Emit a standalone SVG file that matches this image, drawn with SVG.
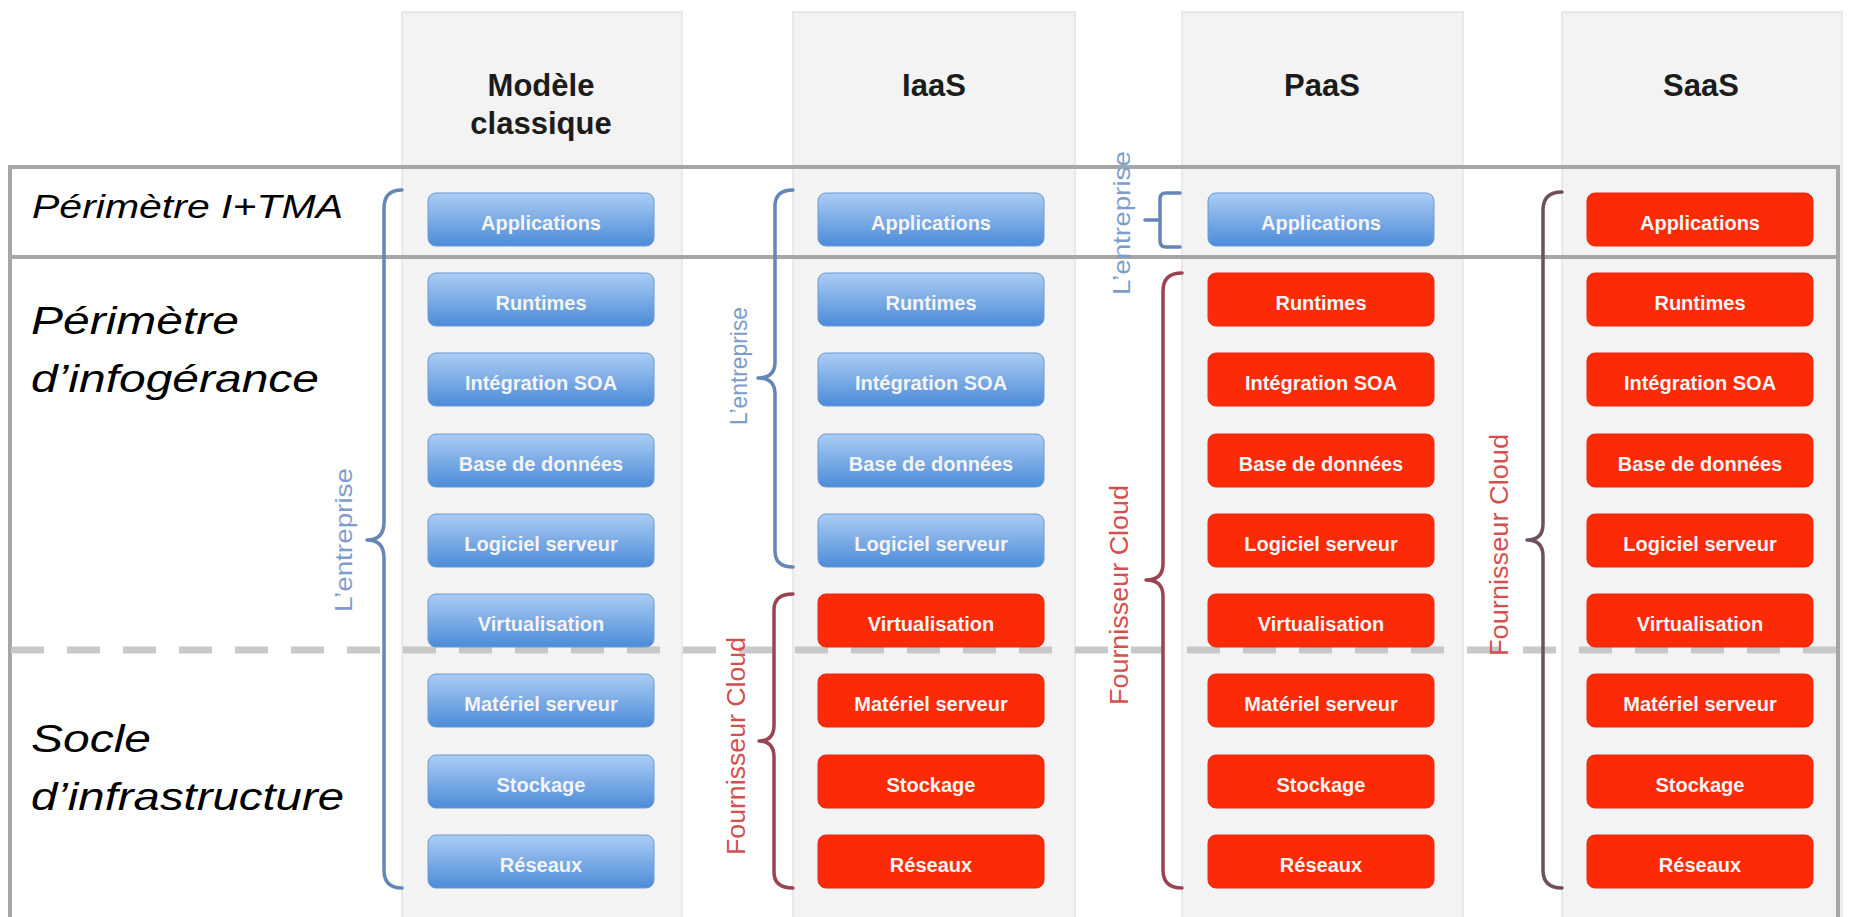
<svg xmlns="http://www.w3.org/2000/svg" width="1849" height="917" viewBox="0 0 1849 917">
  <defs>
    <linearGradient id="blueFill" x1="0" y1="0" x2="0" y2="1">
      <stop offset="0" stop-color="#abcdf4"/>
      <stop offset="1" stop-color="#4c8bd8"/>
    </linearGradient>
    <style>
      .panel { fill: #f3f3f3; stroke: #e3e3e3; stroke-width: 1.5; }
      .head { font-family: "Liberation Sans", Arial, sans-serif; font-weight: bold; font-size: 31px; fill: #1c1c1c; text-anchor: middle; }
      .blue { fill: url(#blueFill); stroke: #6a9ad6; stroke-width: 1; }
      .red { fill: #fc2a06; stroke: #e82a10; stroke-width: 1; }
      .lbl { font-family: "Liberation Sans", Arial, sans-serif; font-weight: bold; font-size: 20px; fill: #f4f4f4; text-anchor: middle; }
      .zone { font-family: "Liberation Sans", Arial, sans-serif; font-style: italic; fill: #000; }
      .frame { fill: none; stroke: #a6a6a6; stroke-width: 4; }
      .dash { stroke: #c8c8c8; stroke-width: 7; stroke-dasharray: 33 23; fill: none; }
      .braceB { fill: none; stroke: #6487b6; stroke-width: 3.5; stroke-linecap: round; stroke-linejoin: round; }
      .braceR { fill: none; stroke: #9a4452; stroke-width: 3.5; stroke-linecap: round; stroke-linejoin: round; }
      .braceD { fill: none; stroke: #6e5060; stroke-width: 3.5; stroke-linecap: round; stroke-linejoin: round; }
      .vB { font-family: "Liberation Sans", Arial, sans-serif; font-size: 24px; fill: #7e9dca; text-anchor: middle; }
      .vR { font-family: "Liberation Sans", Arial, sans-serif; font-size: 26px; fill: #d4504e; text-anchor: middle; }
    </style>
  </defs>

  <rect width="1849" height="917" fill="#ffffff"/>

  <!-- column panels -->
  <g id="panels">
    <rect class="panel" x="402" y="12" width="280" height="920"/>
    <rect class="panel" x="793" y="12" width="282" height="920"/>
    <rect class="panel" x="1182" y="12" width="281" height="920"/>
    <rect class="panel" x="1562" y="12" width="280" height="920"/>
  </g>

  <!-- column headings -->
  <g id="headings">
    <text class="head" x="541" y="96">Modèle</text>
    <text class="head" x="541" y="134">classique</text>
    <text class="head" x="934" y="96">IaaS</text>
    <text class="head" x="1322" y="96">PaaS</text>
    <text class="head" x="1701" y="96">SaaS</text>
  </g>

  <!-- zone frame and separators -->
  <g id="zones">
    <path class="frame" d="M10,930 L10,167 L1838,167 L1838,930"/>
    <line class="frame" x1="10" y1="257" x2="1838" y2="257"/>
    <line class="dash" x1="11" y1="650" x2="1838" y2="650"/>
  </g>

  <!-- zone labels -->
  <g id="zone-labels">
    <text class="zone" font-size="33" x="32" y="218" textLength="311" lengthAdjust="spacingAndGlyphs">Périmètre I+TMA</text>
    <text class="zone" font-size="38" x="31" y="334" textLength="208" lengthAdjust="spacingAndGlyphs">Périmètre</text>
    <text class="zone" font-size="38" x="31" y="392" textLength="288" lengthAdjust="spacingAndGlyphs">d’infogérance</text>
    <text class="zone" font-size="38" x="31" y="752" textLength="120" lengthAdjust="spacingAndGlyphs">Socle</text>
    <text class="zone" font-size="38" x="31" y="810" textLength="313" lengthAdjust="spacingAndGlyphs">d’infrastructure</text>
  </g>

  <!-- Modèle classique stack -->
  <g id="col-classique">
    <rect class="blue" x="428" y="193" width="226" height="53" rx="8"/><text class="lbl" x="541" y="230">Applications</text>
    <rect class="blue" x="428" y="273" width="226" height="53" rx="8"/><text class="lbl" x="541" y="310">Runtimes</text>
    <rect class="blue" x="428" y="353" width="226" height="53" rx="8"/><text class="lbl" x="541" y="390">Intégration SOA</text>
    <rect class="blue" x="428" y="434" width="226" height="53" rx="8"/><text class="lbl" x="541" y="471">Base de données</text>
    <rect class="blue" x="428" y="514" width="226" height="53" rx="8"/><text class="lbl" x="541" y="551">Logiciel serveur</text>
    <rect class="blue" x="428" y="594" width="226" height="53" rx="8"/><text class="lbl" x="541" y="631">Virtualisation</text>
    <rect class="blue" x="428" y="674" width="226" height="53" rx="8"/><text class="lbl" x="541" y="711">Matériel serveur</text>
    <rect class="blue" x="428" y="755" width="226" height="53" rx="8"/><text class="lbl" x="541" y="792">Stockage</text>
    <rect class="blue" x="428" y="835" width="226" height="53" rx="8"/><text class="lbl" x="541" y="872">Réseaux</text>
  </g>

  <!-- IaaS stack -->
  <g id="col-iaas">
    <rect class="blue" x="818" y="193" width="226" height="53" rx="8"/><text class="lbl" x="931" y="230">Applications</text>
    <rect class="blue" x="818" y="273" width="226" height="53" rx="8"/><text class="lbl" x="931" y="310">Runtimes</text>
    <rect class="blue" x="818" y="353" width="226" height="53" rx="8"/><text class="lbl" x="931" y="390">Intégration SOA</text>
    <rect class="blue" x="818" y="434" width="226" height="53" rx="8"/><text class="lbl" x="931" y="471">Base de données</text>
    <rect class="blue" x="818" y="514" width="226" height="53" rx="8"/><text class="lbl" x="931" y="551">Logiciel serveur</text>
    <rect class="red" x="818" y="594" width="226" height="53" rx="8"/><text class="lbl" x="931" y="631">Virtualisation</text>
    <rect class="red" x="818" y="674" width="226" height="53" rx="8"/><text class="lbl" x="931" y="711">Matériel serveur</text>
    <rect class="red" x="818" y="755" width="226" height="53" rx="8"/><text class="lbl" x="931" y="792">Stockage</text>
    <rect class="red" x="818" y="835" width="226" height="53" rx="8"/><text class="lbl" x="931" y="872">Réseaux</text>
  </g>

  <!-- PaaS stack -->
  <g id="col-paas">
    <rect class="blue" x="1208" y="193" width="226" height="53" rx="8"/><text class="lbl" x="1321" y="230">Applications</text>
    <rect class="red" x="1208" y="273" width="226" height="53" rx="8"/><text class="lbl" x="1321" y="310">Runtimes</text>
    <rect class="red" x="1208" y="353" width="226" height="53" rx="8"/><text class="lbl" x="1321" y="390">Intégration SOA</text>
    <rect class="red" x="1208" y="434" width="226" height="53" rx="8"/><text class="lbl" x="1321" y="471">Base de données</text>
    <rect class="red" x="1208" y="514" width="226" height="53" rx="8"/><text class="lbl" x="1321" y="551">Logiciel serveur</text>
    <rect class="red" x="1208" y="594" width="226" height="53" rx="8"/><text class="lbl" x="1321" y="631">Virtualisation</text>
    <rect class="red" x="1208" y="674" width="226" height="53" rx="8"/><text class="lbl" x="1321" y="711">Matériel serveur</text>
    <rect class="red" x="1208" y="755" width="226" height="53" rx="8"/><text class="lbl" x="1321" y="792">Stockage</text>
    <rect class="red" x="1208" y="835" width="226" height="53" rx="8"/><text class="lbl" x="1321" y="872">Réseaux</text>
  </g>

  <!-- SaaS stack -->
  <g id="col-saas">
    <rect class="red" x="1587" y="193" width="226" height="53" rx="8"/><text class="lbl" x="1700" y="230">Applications</text>
    <rect class="red" x="1587" y="273" width="226" height="53" rx="8"/><text class="lbl" x="1700" y="310">Runtimes</text>
    <rect class="red" x="1587" y="353" width="226" height="53" rx="8"/><text class="lbl" x="1700" y="390">Intégration SOA</text>
    <rect class="red" x="1587" y="434" width="226" height="53" rx="8"/><text class="lbl" x="1700" y="471">Base de données</text>
    <rect class="red" x="1587" y="514" width="226" height="53" rx="8"/><text class="lbl" x="1700" y="551">Logiciel serveur</text>
    <rect class="red" x="1587" y="594" width="226" height="53" rx="8"/><text class="lbl" x="1700" y="631">Virtualisation</text>
    <rect class="red" x="1587" y="674" width="226" height="53" rx="8"/><text class="lbl" x="1700" y="711">Matériel serveur</text>
    <rect class="red" x="1587" y="755" width="226" height="53" rx="8"/><text class="lbl" x="1700" y="792">Stockage</text>
    <rect class="red" x="1587" y="835" width="226" height="53" rx="8"/><text class="lbl" x="1700" y="872">Réseaux</text>
  </g>

  <!-- responsibility braces -->
  <g id="braces">
    <path class="braceB" d="M402,190 Q384,190 384,208 L384,522 Q384,540 367,540 Q384,540 384,558 L384,870 Q384,888 402,888"/>
    <path class="braceB" d="M793,190 Q775,190 775,206 L775,362 Q775,378 758,378 Q775,378 775,394 L775,551 Q775,567 793,567"/>
    <path class="braceR" d="M793,594 Q774,594 774,610 L774,725 Q774,741 759,741 Q774,741 774,757 L774,872 Q774,888 793,888"/>
    <path class="braceB" d="M1180,193 L1166,193 Q1160,193 1160,199 L1160,241 Q1160,247 1166,247 L1180,247 M1160,220 L1145,220"/>
    <path class="braceR" d="M1182,273 Q1163,273 1163,291 L1163,564 Q1163,580 1146,580 Q1163,580 1163,596 L1163,870 Q1163,888 1182,888"/>
    <path class="braceD" d="M1562,192 Q1543,192 1543,210 L1543,524 Q1543,540 1527,540 Q1543,540 1543,556 L1543,870 Q1543,888 1562,888"/>
  </g>

  <!-- brace captions -->
  <g id="brace-labels">
    <text class="vB" transform="translate(352,540) rotate(-90)" textLength="144" lengthAdjust="spacingAndGlyphs">L’entreprise</text>
    <text class="vB" transform="translate(747,366) rotate(-90)" textLength="118" lengthAdjust="spacingAndGlyphs">L’entreprise</text>
    <text class="vR" transform="translate(745,746) rotate(-90)" textLength="218" lengthAdjust="spacingAndGlyphs">Fournisseur Cloud</text>
    <text class="vB" transform="translate(1130,223) rotate(-90)" textLength="144" lengthAdjust="spacingAndGlyphs">L’entreprise</text>
    <text class="vR" transform="translate(1128,595) rotate(-90)" textLength="220" lengthAdjust="spacingAndGlyphs">Fournisseur Cloud</text>
    <text class="vR" transform="translate(1508,545) rotate(-90)" textLength="222" lengthAdjust="spacingAndGlyphs">Fournisseur Cloud</text>
  </g>
</svg>
